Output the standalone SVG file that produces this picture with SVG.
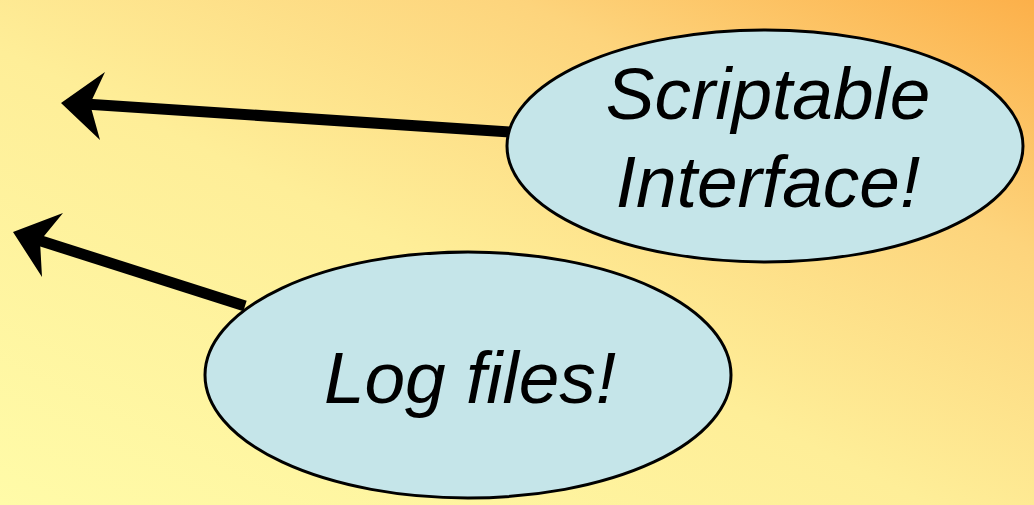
<svg xmlns="http://www.w3.org/2000/svg" width="1034" height="505" viewBox="0 0 1034 505">
<defs>
<linearGradient id="bg" x1="0" y1="1" x2="1" y2="0" gradientUnits="objectBoundingBox">
<stop offset="0" stop-color="#FFFBA8"/>
<stop offset="0.45" stop-color="#FEEE98"/>
<stop offset="0.75" stop-color="#FDD47C"/>
<stop offset="1" stop-color="#FCB04A"/>
</linearGradient>
<style>
.node ellipse{fill:#C5E5E9;stroke:#000;stroke-width:3}
.lbl{font-family:"Liberation Sans",Arial,sans-serif;font-style:italic;font-size:73px;fill:#000;text-anchor:middle}
.shaft{stroke:#000;stroke-width:11;fill:none}
.head{fill:#000}
</style>
</defs>
<rect width="1034" height="505" fill="url(#bg)"/>
<g id="connectors">
<line class="shaft" x1="510" y1="132" x2="85" y2="104"/>
<polygon class="head" points="61,103 105,72 90,104 100,140"/>
<line class="shaft" x1="245" y1="306" x2="38" y2="240"/>
<polygon class="head" points="13,232 63,213 40,241 42,277"/>
</g>
<g id="scriptable" class="node">
<ellipse cx="765" cy="146" rx="258" ry="116"/>
<text class="lbl" x="768" y="119">Scriptable</text>
<text class="lbl" x="768" y="207">Interface!</text>
</g>
<g id="logfiles" class="node">
<ellipse cx="468" cy="375" rx="263" ry="123"/>
<text class="lbl" x="470" y="403">Log files!</text>
</g>
</svg>
